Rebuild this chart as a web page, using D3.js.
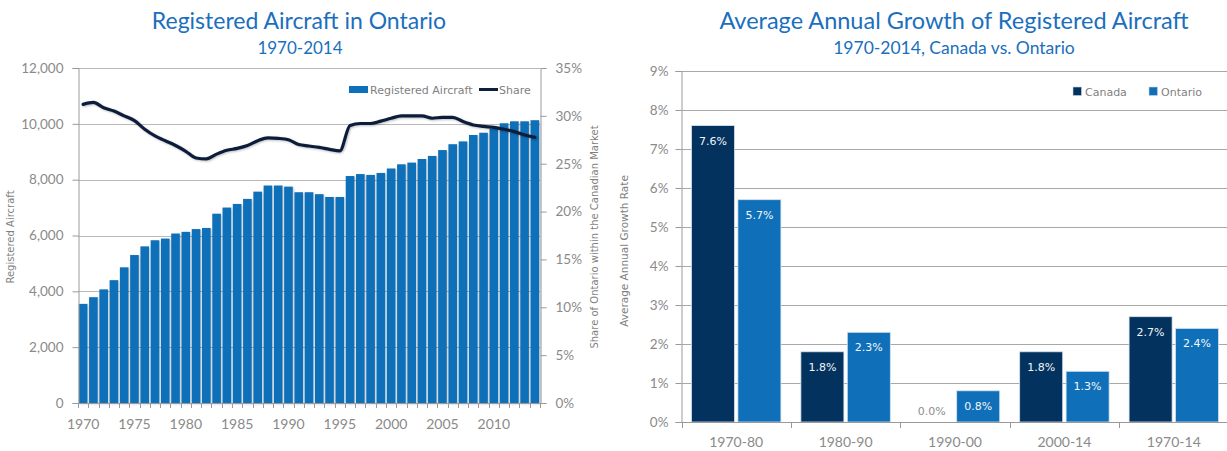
<!DOCTYPE html>
<html>
<head>
<meta charset="utf-8">
<script src="https://cdn.jsdelivr.net/npm/d3@7"></script>
<style>
  html, body { margin: 0; padding: 0; background: #fff; }
  svg { display: block; font-family: Lato, "Open Sans", sans-serif; }
</style>
</head>
<body>
<svg id="chart" width="1227" height="451"></svg>
<script>
// ---- Registered aircraft in Ontario, 1970-2014 ----
const years = [1970,1971,1972,1973,1974,1975,1976,1977,1978,1979,
  1980,1981,1982,1983,1984,1985,1986,1987,1988,1989,
  1990,1991,1992,1993,1994,1995,1996,1997,1998,1999,
  2000,2001,2002,2003,2004,2005,2006,2007,2008,2009,
  2010,2011,2012,2013,2014];
const registered = [3550,3790,4070,4400,4860,5300,5610,5830,5890,6070,
  6130,6230,6270,6780,7000,7130,7310,7570,7790,7790,
  7750,7550,7550,7480,7380,7380,8130,8200,8170,8240,
  8400,8550,8610,8740,8850,9060,9270,9370,9600,9680,
  9830,10020,10090,10090,10130];
// Ontario share of the Canadian fleet (%)
const share = [31.2,31.4,30.85,30.5,30.0,29.5,28.6,27.9,27.4,26.9,
  26.3,25.6,25.5,26.0,26.4,26.6,26.9,27.4,27.7,27.65,
  27.5,27.0,26.85,26.7,26.5,26.35,29.0,29.2,29.2,29.45,
  29.75,30.0,30.0,30.0,29.75,29.85,29.85,29.4,29.05,28.9,
  28.8,28.6,28.35,28.0,27.75];
const leftTicks = [0,2000,4000,6000,8000,10000,12000];
const rightTicks = [0,5,10,15,20,25,30,35];
const yearLabels = [1970,1975,1980,1985,1990,1995,2000,2005,2010];

// ---- Average annual growth, Canada vs. Ontario ----
const periods = ["1970-80","1980-90","1990-00","2000-14","1970-14"];
const seriesNames = ["Canada","Ontario"];
const canadaGrowth = [7.6,1.8,0.0,1.8,2.7];
const ontarioGrowth = [5.7,2.3,0.8,1.3,2.4];
const growthTicks = [0,1,2,3,4,5,6,7,8,9];

const C = {
  title: "#1b6fbe",
  bar: "#0f6fb8",
  navy: "#03325f",
  line: "#0c1f3b",
  grid: "#b9b9b9",
  axis: "#9a9a9a",
  tick: "#8a8a8a",
  legend: "#7f7f7f"
};
const SMALL_FONT = "'DejaVu Sans', Verdana, sans-serif";

const svg = d3.select("#chart");
const defs = svg.append("defs");
const sh = defs.append("filter").attr("id", "shadow")
  .attr("x", "-10%").attr("y", "-10%").attr("width", "130%").attr("height", "130%");
sh.append("feDropShadow").attr("dx", 1).attr("dy", 1).attr("stdDeviation", 0.8)
  .attr("flood-color", "#000").attr("flood-opacity", 0.25);

// ================= Left chart =================
{
  const L = { left: 78, right: 540, top: 68, bottom: 403 };
  const x = d3.scaleBand().domain(years).range([L.left, L.right]).paddingInner(0.16).paddingOuter(0.08);
  const y = d3.scaleLinear().domain([0, 12000]).range([L.bottom, L.top]);
  const y2 = d3.scaleLinear().domain([0, 35]).range([L.bottom, L.top]);
  const g = svg.append("g");

  // titles
  g.append("text").attr("x", 299).attr("y", 29).attr("text-anchor", "middle")
    .attr("fill", C.title).style("font-size", "23px").text("Registered Aircraft in Ontario");
  g.append("text").attr("x", 300).attr("y", 54).attr("text-anchor", "middle")
    .attr("fill", C.title).style("font-size", "17px").text("1970-2014");

  // gridlines
  g.append("g").selectAll("line").data(leftTicks.filter(d => d > 0)).join("line")
    .attr("x1", L.left).attr("x2", L.right)
    .attr("y1", d => Math.round(y(d)) + 0.5).attr("y2", d => Math.round(y(d)) + 0.5)
    .attr("stroke", C.grid).attr("stroke-width", 1);

  // bars
  g.append("g").attr("filter", "url(#shadow)").selectAll("rect").data(years).join("rect")
    .attr("x", d => x(d)).attr("width", x.bandwidth())
    .attr("y", (d, i) => y(registered[i]))
    .attr("height", (d, i) => y(0) - y(registered[i]))
    .attr("fill", C.bar);

  // share line
  const line = d3.line()
    .x((d, i) => x(years[i]) + x.bandwidth() / 2)
    .y(d => y2(d))
    .curve(d3.curveMonotoneX);
  g.append("path").datum(share).attr("d", line)
    .attr("fill", "none").attr("stroke", C.line).attr("stroke-width", 3.2)
    .attr("stroke-linejoin", "round").attr("stroke-linecap", "round")
    .attr("filter", "url(#shadow)");

  // left axis
  const ax = d3.axisLeft(y).tickValues(leftTicks).tickSize(6).tickPadding(9)
    .tickFormat(d3.format(","));
  const ga = g.append("g").attr("transform", `translate(${L.left + 0.5},0)`).call(ax);
  // right axis
  const ar = d3.axisRight(y2).tickValues(rightTicks).tickSize(6).tickPadding(9)
    .tickFormat(d => d + "%");
  const gr = g.append("g").attr("transform", `translate(${L.right + 0.5},0)`).call(ar);
  // bottom axis: a tick at each year boundary, labels every five years
  const xb = d3.scaleLinear().domain([0, years.length]).range([L.left, L.right]);
  const gb = g.append("g");
  gb.append("line").attr("x1", L.left).attr("x2", L.right + 1)
    .attr("y1", L.bottom + 0.5).attr("y2", L.bottom + 0.5).attr("stroke", C.axis);
  gb.selectAll("line.t").data(d3.range(years.length + 1)).join("line").attr("class", "t")
    .attr("x1", d => Math.round(xb(d)) + 0.5).attr("x2", d => Math.round(xb(d)) + 0.5)
    .attr("y1", L.bottom).attr("y2", L.bottom + 5).attr("stroke", C.axis);
  gb.selectAll("text").data(yearLabels).join("text")
    .attr("x", d => x(d) + x.bandwidth() / 2).attr("y", 429)
    .attr("text-anchor", "middle").attr("fill", C.tick).style("font-size", "14px").text(d => d);

  [ga, gr].forEach(a => {
    a.select(".domain").attr("stroke", C.axis);
    a.selectAll(".tick line").attr("stroke", C.axis);
    a.selectAll(".tick text").attr("fill", C.tick).style("font-size", "13.5px")
      .style("font-family", "Lato, sans-serif");
  });

  // axis titles
  g.append("text").attr("transform", "translate(14,237) rotate(-90)").attr("text-anchor", "middle")
    .attr("fill", C.legend).style("font-family", SMALL_FONT).style("font-size", "10px")
    .text("Registered Aircraft");
  g.append("text").attr("transform", "translate(598,237) rotate(-90)").attr("text-anchor", "middle")
    .attr("fill", C.legend).style("font-family", SMALL_FONT).style("font-size", "10px")
    .text("Share of Ontario within the Canadian Market");

  // legend
  lgText = (sel) => sel.attr("fill", C.legend).style("font-family", SMALL_FONT).style("font-size", "11px");
  g.append("rect").attr("x", 349).attr("y", 86).attr("width", 19).attr("height", 7).attr("fill", C.bar);
  g.append("text").attr("x", 370).attr("y", 93.5).call(lgText).text("Registered Aircraft");
  g.append("line").attr("x1", 479).attr("x2", 498).attr("y1", 89.5).attr("y2", 89.5)
    .attr("stroke", C.line).attr("stroke-width", 3);
  g.append("text").attr("x", 499).attr("y", 93.5).call(lgText).text("Share");
}

// ================= Right chart =================
{
  const R = { left: 681.5, right: 1228.5, top: 71, bottom: 422 };
  const x0 = d3.scaleBand().domain(periods).range([R.left, R.right]);
  const x1 = d3.scaleBand().domain(seriesNames).range([0, x0.bandwidth()])
    .paddingInner(0.073).paddingOuter(0.215);
  const y = d3.scaleLinear().domain([0, 9]).range([R.bottom, R.top]);
  const g = svg.append("g");

  g.append("text").attr("x", 954).attr("y", 29).attr("text-anchor", "middle")
    .attr("fill", C.title).style("font-size", "23.5px").text("Average Annual Growth of Registered Aircraft");
  g.append("text").attr("x", 954).attr("y", 54).attr("text-anchor", "middle")
    .attr("fill", C.title).style("font-size", "17.5px").text("1970-2014, Canada vs. Ontario");

  g.append("g").selectAll("line").data(growthTicks.filter(d => d > 0)).join("line")
    .attr("x1", R.left).attr("x2", R.right)
    .attr("y1", d => Math.round(y(d)) + 0.5).attr("y2", d => Math.round(y(d)) + 0.5)
    .attr("stroke", "#a8a8a8").attr("stroke-width", 1);

  const rows = periods.map((p, i) => ({ period: p, values: [
    { name: "Canada", v: canadaGrowth[i] }, { name: "Ontario", v: ontarioGrowth[i] }] }));
  const colors = d3.scaleOrdinal().domain(seriesNames).range([C.navy, C.bar]);

  const grp = g.append("g").selectAll("g").data(rows).join("g")
    .attr("transform", d => `translate(${x0(d.period)},0)`);
  grp.selectAll("rect").data(d => d.values.filter(v => v.v > 0)).join("rect")
    .attr("x", d => x1(d.name)).attr("width", x1.bandwidth())
    .attr("y", d => y(d.v)).attr("height", d => y(0) - y(d.v))
    .attr("fill", d => colors(d.name)).attr("stroke", "#d6e2ee").attr("stroke-width", 0.8);
  grp.selectAll("text").data(d => d.values).join("text")
    .attr("x", d => x1(d.name) + x1.bandwidth() / 2)
    .attr("y", d => d.v > 0 ? y(d.v) + 19 : y(0) - 7)
    .attr("text-anchor", "middle")
    .attr("fill", d => d.v > 0 ? "#f2f6fa" : "#8c8c8c")
    .style("font-family", SMALL_FONT).style("font-size", "11px")
    .text(d => d.v.toFixed(1) + "%");

  const ay = d3.axisLeft(y).tickValues(growthTicks).tickSize(6).tickPadding(7)
    .tickFormat(d => d + "%");
  const ga = g.append("g").attr("transform", `translate(${R.left},0)`).call(ay);
  ga.select(".domain").attr("stroke", C.axis);
  ga.selectAll(".tick line").attr("stroke", C.axis);
  ga.selectAll(".tick text").attr("fill", C.tick).style("font-size", "13.5px")
    .style("font-family", "Lato, sans-serif");

  const gb = g.append("g");
  gb.append("line").attr("x1", R.left).attr("x2", R.right)
    .attr("y1", R.bottom + 0.5).attr("y2", R.bottom + 0.5).attr("stroke", C.axis);
  gb.selectAll("line.t").data(periods.concat(["end"])).join("line").attr("class", "t")
    .attr("x1", (d, i) => Math.round(R.left + i * x0.step()) + 0.5)
    .attr("x2", (d, i) => Math.round(R.left + i * x0.step()) + 0.5)
    .attr("y1", R.bottom).attr("y2", R.bottom + 6).attr("stroke", C.axis);
  gb.selectAll("text").data(periods).join("text")
    .attr("x", d => x0(d) + x0.bandwidth() / 2).attr("y", 447)
    .attr("text-anchor", "middle").attr("fill", C.tick).style("font-size", "14px").text(d => d);

  g.append("text").attr("transform", "translate(628,251) rotate(-90)").attr("text-anchor", "middle")
    .attr("fill", C.legend).style("font-family", SMALL_FONT).style("font-size", "10.5px")
    .text("Average Annual Growth Rate");

  [["Canada", 1073, 1085], ["Ontario", 1149, 1161]].forEach(([n, rx, tx]) => {
    g.append("rect").attr("x", rx).attr("y", 87).attr("width", 8.5).attr("height", 8.5)
      .attr("fill", colors(n)).attr("stroke", "#c9d5e1").attr("stroke-width", 0.6);
    g.append("text").attr("x", tx).attr("y", 95.5).attr("fill", C.legend)
      .style("font-family", SMALL_FONT).style("font-size", "11px").text(n);
  });
}
</script>
</body>
</html>
